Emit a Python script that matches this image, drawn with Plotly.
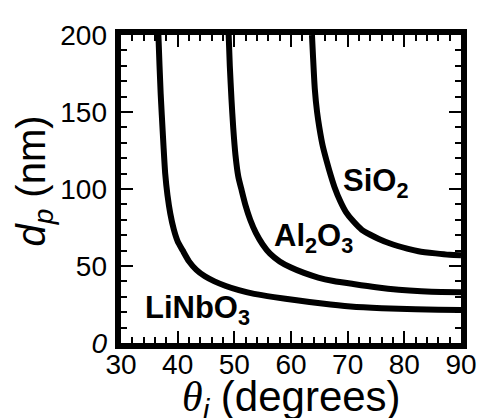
import plotly.graph_objects as go

# ---- data ----
linbo3_theta = [36.6, 36.8, 37.0, 37.2, 37.5, 37.8, 38.2, 38.7, 39.3, 40.0, 40.9, 42.0, 43.3,
                44.8, 46.5, 48.5, 50.8, 53.5, 57.0, 61.0, 65.5, 70.5, 76.0, 82.0, 86.0, 90.0]
linbo3_dp = [200, 180, 162, 148, 128, 110, 96, 84, 74, 66, 60, 53, 47.5,
             43.3, 40.0, 37.0, 34.3, 31.9, 29.8, 27.8, 25.6, 23.7, 22.6, 21.9, 21.6, 21.4]

al2o3_theta = [49.0, 49.2, 49.5, 49.8, 50.2, 50.7, 51.3, 52.0, 52.8, 53.8, 55.0, 56.3, 58.0,
               60.0, 62.3, 64.8, 67.5, 71.0, 75.0, 79.0, 83.0, 86.5, 90.0]
al2o3_dp = [200, 180, 158, 140, 122, 108, 99, 89, 80, 71.5, 64, 58, 53,
            49, 45.5, 42.5, 40.3, 38.3, 36.2, 34.6, 33.6, 33.1, 33.0]

sio2_theta = [63.7, 63.9, 64.2, 64.6, 65.0, 65.6, 66.3, 67.0, 67.7, 68.7, 69.7, 71.0, 72.5,
              74.0, 75.5, 77.5, 80.5, 82.5, 85.5, 88.0, 90.0]
sio2_dp = [200, 185, 165, 150, 140, 128, 118, 109, 101, 92, 85, 79, 73.5,
           70.3, 67.6, 64.6, 61.3, 59.6, 58.2, 57.3, 57.0]

series = [
    ("LiNbO<sub>3</sub>", linbo3_theta, linbo3_dp, 33.8, 21.5),
    ("Al<sub>2</sub>O<sub>3</sub>", al2o3_theta, al2o3_dp, 56.6, 68.0),
    ("SiO<sub>2</sub>", sio2_theta, sio2_dp, 68.8, 104.0),
]

x_range = [30, 90]
y_range = [0, 200]
y_ticks = [0, 50, 100, 150, 200]
y_ticktext = ["<i>0</i>", "50", "100", "150", "200"]

FONT = "Liberation Sans, Arial, Helvetica, sans-serif"

fig = go.Figure()
for name, th, dp, lx, ly in series:
    fig.add_trace(go.Scatter(x=th, y=dp, mode="lines",
                             line=dict(color="black", width=6, shape="spline", smoothing=0.6),
                             showlegend=False, hoverinfo="skip"))
    fig.add_annotation(x=lx, y=ly, xref="x", yref="y", text="<b>" + name + "</b>",
                       showarrow=False, xanchor="left", yanchor="middle",
                       font=dict(family=FONT, size=31, color="black"))

# invisible trace that carries the y tick-label axis
fig.add_trace(go.Scatter(x=x_range, y=y_range, xaxis="x", yaxis="y2",
                         mode="markers", marker=dict(opacity=0),
                         showlegend=False, hoverinfo="skip"))

tick_common = dict(
    showline=True, linewidth=6, linecolor="black", mirror="ticks",
    ticks="inside", ticklen=12, tickwidth=2, tickcolor="black",
    showgrid=False, zeroline=False,
    tickfont=dict(family=FONT, size=28, color="black"),
)

fig.update_layout(
    xaxis=dict(range=x_range, tickmode="linear", tick0=30, dtick=10,
               minor=dict(ticks="inside", dtick=2, ticklen=6, tickwidth=2, tickcolor="black"),
               ticklabelstandoff=-9, **tick_common),
    yaxis=dict(range=y_range, tickmode="linear", tick0=0, dtick=50,
               minor=dict(ticks="inside", dtick=10, ticklen=6, tickwidth=2, tickcolor="black"),
               showticklabels=False, **tick_common),
    yaxis2=dict(range=y_range, tickvals=y_ticks, ticktext=y_ticktext, overlaying="y",
                side="left", anchor="x", ticks="", showline=False, showgrid=False,
                zeroline=False, ticklabelstandoff=13,
                tickfont=dict(family=FONT, size=28, color="black")),
)

# axis titles as annotations
fig.add_annotation(xref="paper", yref="paper", x=0.5, y=-0.09,
                   text="<span style=\"font-family:'Liberation Serif', 'DejaVu Serif', serif\"><i>θ</i></span><sub><i>i</i></sub> (degrees)",
                   showarrow=False, xanchor="center", yanchor="top",
                   font=dict(family=FONT, size=42, color="black"))
fig.add_annotation(xref="paper", yref="paper", x=-0.255, y=0.525,
                   text="<i>d</i><sub><i>p</i></sub> (nm)", textangle=-90,
                   showarrow=False, xanchor="center", yanchor="middle",
                   font=dict(family=FONT, size=40, color="black"))

# page body has an 8px margin, so the figure is slightly smaller than the window
fig.update_layout(
    width=481, height=410,
    margin=dict(l=113, r=24, t=24, b=75),
    paper_bgcolor="white", plot_bgcolor="white",
)

fig.write_html("out.html")
